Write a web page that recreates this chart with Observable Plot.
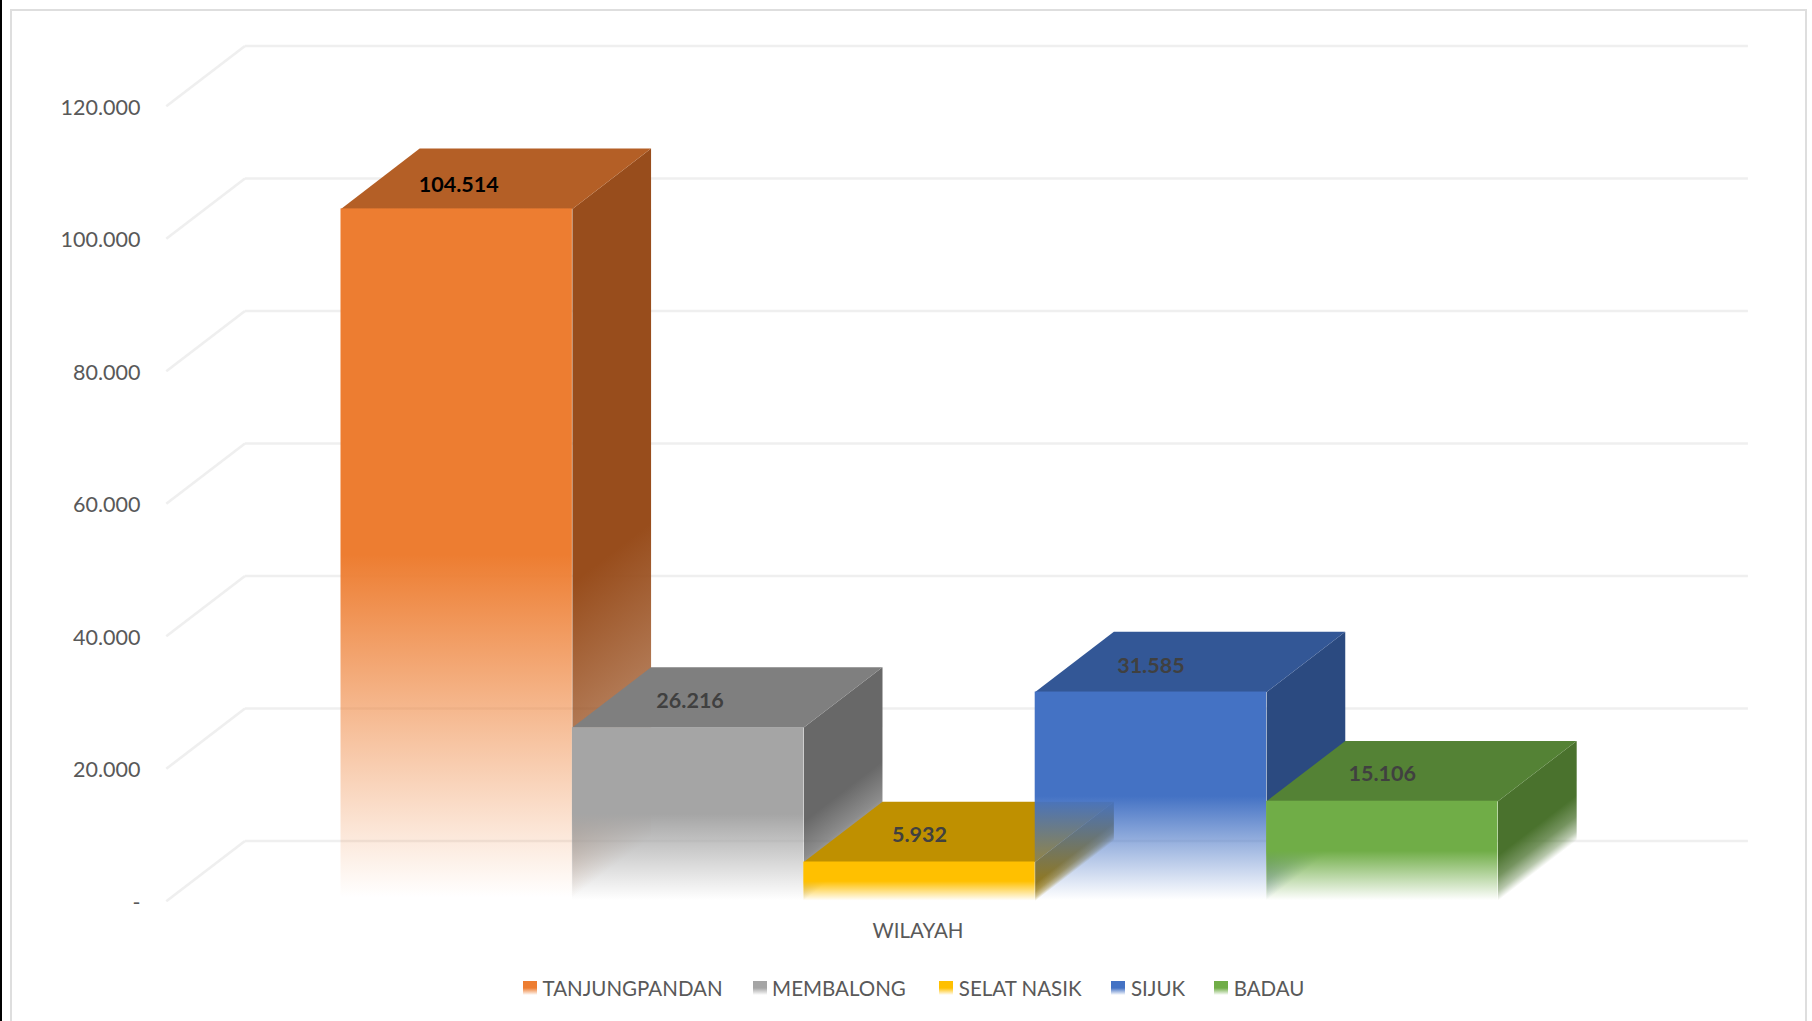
<!DOCTYPE html>
<html>
<head>
<meta charset="utf-8">
<script src="https://cdn.jsdelivr.net/npm/d3@7"></script>
<script src="https://cdn.jsdelivr.net/npm/@observablehq/plot@0.6"></script>
<style>
  html, body { margin: 0; padding: 0; background: #fff; overflow: hidden; }
  body { width: 1812px; height: 1021px; position: relative; font-family: Lato, "Noto Sans", sans-serif; }
  #edge { position: absolute; left: 0; top: 0; width: 1.5px; height: 1021px; background: #000; }
  #frame { position: absolute; left: 10px; top: 9px; width: 1793px; height: 1030px;
           border: 2.5px solid #dedede; box-sizing: content-box; }
  #chart { position: absolute; left: 0; top: 0; }
  #chart svg { display: block; background: transparent; }
  #legend { position: absolute; left: 523px; top: 971px; height: 34px; display: flex; align-items: center;
            color: #595959; font-size: 20.5px; white-space: nowrap; }
  #legend .item { display: flex; align-items: center; }
  #legend .sw { width: 14px; height: 14px; margin-right: 5.5px; }
</style>
</head>
<body>
<div id="edge"></div>
<div id="frame"></div>
<div id="chart"></div>
<div id="legend"></div>
<script>
// ---- data ----
const regions = ["TANJUNGPANDAN", "MEMBALONG", "SELAT NASIK", "SIJUK", "BADAU"];
const values = [104514, 26216, 5932, 31585, 15106];
const labels = ["104.514", "26.216", "5.932", "31.585", "15.106"];
const labelColors = ["#000000", "#404040", "#404040", "#404040", "#404040"];
const frontColors = ["#ed7d31", "#a5a5a5", "#ffc000", "#4472c4", "#70ad47"];
const topColors = ["#b45f26", "#7f7f7f", "#bf9000", "#335796", "#548235"];
const sideColors = ["#984d1c", "#686868", "#a07a00", "#2b4a80", "#4a722d"];
const yTicks = [0, 20000, 40000, 60000, 80000, 100000, 120000];
const yTickLabels = ["-", "20.000", "40.000", "60.000", "80.000", "100.000", "120.000"];
const categoryLabel = "WILAYAH";

// 3D depth, in scale units
const depthX = 0.34;
const depthY = 9100;
const wallLeft = -0.755;
const wallRight = 6.08;
const frontFade = [[0, 1], [0.5, 1], [0.995, 0]];
const sideFade = [[0, 1], [0.54, 1], [0.75, 0.76], [0.9, 0.4], [0.995, 0]];
const labelNudgeX = [2, 2, 0, 0, 0];
const labelNudgeY = [-24.2, -26.5, -26.5, -25.5, -27.5];
const legendGaps = [30, 33.5, 30, 29, 0];

const idx = d3.range(values.length);

function gradientDefs(index, scales) {
  const {x, y} = scales;
  const ns = "http://www.w3.org/2000/svg";
  const defs = document.createElementNS(ns, "defs");
  const stops = (g, color, fade) => {
    for (const [o, a] of fade) {
      const s = document.createElementNS(ns, "stop");
      s.setAttribute("offset", o);
      s.setAttribute("stop-color", color);
      s.setAttribute("stop-opacity", a);
      g.appendChild(s);
    }
    defs.appendChild(g);
  };
  for (const i of idx) {
    const f = document.createElementNS(ns, "linearGradient");
    f.setAttribute("id", "front" + i);
    f.setAttribute("x1", 0); f.setAttribute("x2", 0);
    f.setAttribute("y1", 0); f.setAttribute("y2", 1);
    stops(f, frontColors[i], frontFade);
    // side face: bands run parallel to the bottom edge of the face
    const xr = x(i + 1);
    const k = (y(depthY) - y(0)) / (x(i + 1 + depthX) - xr);
    const s = document.createElementNS(ns, "linearGradient");
    s.setAttribute("id", "side" + i);
    s.setAttribute("gradientUnits", "userSpaceOnUse");
    s.setAttribute("x1", xr); s.setAttribute("x2", xr);
    s.setAttribute("y1", y(values[i])); s.setAttribute("y2", y(0));
    s.setAttribute("gradientTransform", `matrix(1 ${k} 0 1 0 ${-k * xr})`);
    stops(s, sideColors[i], sideFade);
  }
  return defs;
}

const gridLinks = yTicks.flatMap(v => [
  {x1: wallLeft, y1: v, x2: wallLeft + depthX, y2: v + depthY},
  {x1: wallLeft + depthX, y1: v + depthY, x2: wallRight, y2: v + depthY}
]);

const barMarks = idx.flatMap(i => {
  const v = values[i];
  const side = [
    {x: i + 1, y: v}, {x: i + 1 + depthX, y: v + depthY},
    {x: i + 1 + depthX, y: depthY}, {x: i + 1, y: 0}
  ];
  const top = [
    {x: i, y: v}, {x: i + depthX, y: v + depthY},
    {x: i + 1 + depthX, y: v + depthY}, {x: i + 1, y: v}
  ];
  return [
    Plot.line(side, {x: "x", y: "y", fill: `url(#side${i})`, stroke: "none"}),
    Plot.line(top, {x: "x", y: "y", fill: topColors[i], stroke: "none"}),
    Plot.rect([i], {x1: d => d, x2: d => d + 1, y1: 0, y2: d => values[d], fill: `url(#front${i})`})
  ];
});

const labelMarks = idx.map(i =>
  Plot.text([i], {
    x: d => d + 0.5, y: d => values[d], text: d => labels[d],
    dy: labelNudgeY[i], dx: labelNudgeX[i],
    fill: labelColors[i], fontWeight: 700, fontSize: 21.5, fontFamily: "Lato, sans-serif"
  })
);

const chart = Plot.plot({
  width: 1812,
  height: 960,
  marginLeft: 146,
  marginTop: 0,
  marginRight: 0,
  marginBottom: 48,
  style: {background: "transparent", fontFamily: "Lato, sans-serif"},
  x: {type: "linear", domain: [0, 5], range: [340.5, 1497.5]},
  y: {type: "linear", domain: [0, 120000], range: [900.8, 105.8]},
  marks: [
    gradientDefs,
    Plot.link(gridLinks, {x1: "x1", y1: "y1", x2: "x2", y2: "y2", stroke: "#efefef", strokeWidth: 2.6}),
    ...barMarks,
    ...labelMarks,
    Plot.axisY({
      anchor: "left", ticks: yTicks, tickSize: 0, tickPadding: 6, label: null,
      tickFormat: v => yTickLabels[yTicks.indexOf(v)],
      fill: "#595959", fontSize: 21.5, fontFamily: "Lato, sans-serif", dy: 1.5
    }),
    Plot.axisX({
      anchor: "bottom", ticks: [2.5], tickSize: 0, tickPadding: 11, label: null,
      tickFormat: () => categoryLabel,
      fill: "#595959", fontSize: 20.5, fontFamily: "Lato, sans-serif", dx: -1.5
    })
  ]
});
document.getElementById("chart").appendChild(chart);

const legend = d3.select("#legend");
regions.forEach((r, i) => {
  const item = legend.append("div").attr("class", "item").style("margin-right", legendGaps[i] + "px");
  item.append("div").attr("class", "sw")
    .style("background", `linear-gradient(to bottom, ${frontColors[i]} 0%, ${frontColors[i]} 50%, #ffffff 100%)`);
  item.append("span").text(r);
});
</script>
</body>
</html>
